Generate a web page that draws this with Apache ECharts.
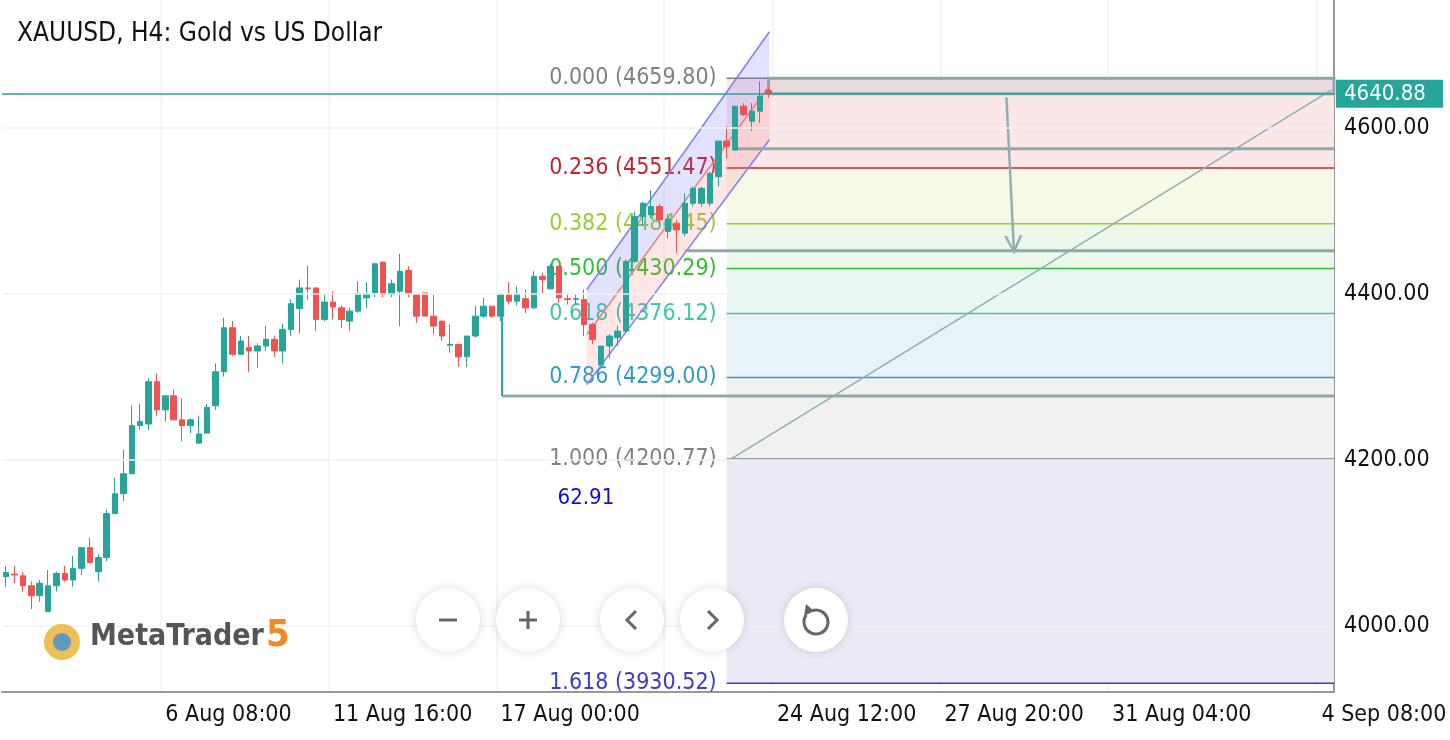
<!DOCTYPE html>
<html>
<head>
<meta charset="utf-8">
<script src="https://cdn.jsdelivr.net/npm/echarts@6/dist/echarts.min.js"></script>
<style>
  html, body { margin: 0; padding: 0; background: #fff; }
  #chart { width: 1450px; height: 740px; }
</style>
</head>
<body>
<div id="chart"></div>
<script>
// H4 candles, oldest first
const opens  = [4059,4062,4060,4048,4036,4017,4048,4063,4055,4069,4094,4065,4082,4135,4159,4183,4241,4243,4294,4260,4277,4248,4241,4220,4232,4265,4306,4359,4327,4335,4331,4337,4345,4331,4357,4382,4407,4407,4369,4390,4383,4367,4379,4395,4401,4438,4399,4403,4428,4399,4401,4373,4367,4338,4339,4324,4349,4373,4385,4373,4399,4391,4394,4383,4421,4406,4433,4394,4393,4393,4363,4314,4337,4347,4355,4439,4493,4495,4505,4475,4485,4473,4509,4509,4509,4541,4584,4573,4626,4608,4620,4645];
const closes = [4064,4061,4048,4036,4051,4048,4063,4055,4069,4094,4076,4082,4135,4159,4183,4241,4246,4294,4260,4277,4248,4241,4248,4231,4263,4306,4359,4327,4343,4331,4337,4345,4331,4357,4388,4407,4406,4369,4390,4384,4369,4379,4400,4400,4436,4399,4412,4427,4401,4373,4373,4361,4349,4339,4324,4349,4373,4385,4373,4399,4391,4399,4383,4421,4417,4433,4395,4393,4394,4363,4345,4337,4349,4355,4439,4493,4509,4505,4489,4490,4477,4509,4527,4527,4545,4584,4577,4626,4616,4620,4638,4640.88];
const lows   = [4047,4051,4041,4020,4029,4017,4041,4053,4047,4061,4075,4053,4078,4135,4150,4183,4236,4236,4253,4246,4248,4222,4232,4219,4232,4260,4300,4325,4326,4306,4311,4331,4324,4316,4349,4352,4393,4355,4367,4369,4359,4355,4377,4383,4396,4396,4396,4361,4396,4365,4373,4351,4343,4329,4312,4312,4347,4371,4371,4367,4387,4386,4377,4382,4401,4405,4389,4387,4387,4349,4339,4314,4322,4337,4353,4437,4481,4491,4483,4467,4449,4469,4505,4505,4505,4529,4563,4573,4614,4596,4606,4636];
const highs  = [4072,4072,4065,4053,4055,4067,4065,4072,4084,4094,4106,4086,4140,4178,4212,4265,4267,4298,4304,4277,4284,4274,4250,4253,4267,4316,4371,4367,4349,4349,4340,4361,4349,4364,4393,4417,4434,4407,4400,4403,4386,4383,4415,4414,4437,4439,4417,4448,4433,4399,4401,4399,4367,4363,4339,4349,4385,4395,4385,4401,4414,4409,4405,4427,4425,4436,4434,4401,4399,4405,4365,4337,4351,4361,4441,4499,4511,4525,4508,4496,4489,4521,4529,4529,4547,4584,4602,4626,4630,4630,4656,4648];

const barCount = 159; // history + empty future bars
const tickIdx = [19, 39, 59, 79, 92, 112, 132, 157];
const tickLabels = ['6 Aug 08:00', '11 Aug 16:00', '17 Aug 00:00', '', '24 Aug 12:00', '27 Aug 20:00', '31 Aug 04:00', '4 Sep 08:00'];
const priceTicks = [4000, 4200, 4400, 4600];

// fibonacci retracement
const fibRatios = ['0.000', '0.236', '0.382', '0.500', '0.618', '0.786', '1.000', '1.618'];
const fibPrices = [4659.80, 4551.47, 4484.45, 4430.29, 4376.12, 4299.00, 4200.77, 3930.52];
const fibColors = ['#808080', '#c8232c', '#9acd32', '#32c032', '#3cc8a0', '#3399cc', '#808080', '#3c3cc8'];
const fibFills = ['#fbe6e8', '#f5f9e6', '#ebf8ea', '#e9f8f4', '#e7f2f9', '#f1f1f1', '#ebebf8'];
const fibStart = 86;

// drawn levels: [price, start bar]
const levelPrices = [4574.81, 4451.76, 4276.70];
const levelStarts = [87.2, 81, 59.2];
const lastPrice = 4640.88;

// regression channel: [bar, upper, middle, lower]
const channelStart = [69.3, 4404.8, 4350.6, 4290.4];
const channelEnd = [91.1, 4715.7, 4650.6, 4585.5];
// trend line and arrow: [bar, price]
const trendLine = [[86.4, 4200], [158.2, 4645.8]];
const arrowLine = [[119.4, 4637], [120.3, 4450.6]];
const boxTop = [91, 4659.8, 4640.88];
const verticalLine = [59.2, 4276.7, 4400];
const pointsText = [69.2, 4154, '62.91'];

const font = '"DejaVu Sans Condensed", "DejaVu Sans", sans-serif';
const xMax = barCount - 0.5;

const candleData = opens.map((o, i) => [o, closes[i], lows[i], highs[i]]);
const categories = [];
for (let i = 0; i < barCount; i++) {
  const k = tickIdx.indexOf(i);
  categories.push(k >= 0 ? tickLabels[k] : '');
}
const isTick = (i) => tickIdx.indexOf(i) >= 0;

function renderOverlay(params, api) {
  const c = (x, y) => api.coord([x, y]);
  const els = [];
  const right = xMax;
  // fib bands
  for (let i = 0; i < fibFills.length; i++) {
    const a = c(fibStart, fibPrices[i]), b = c(right, fibPrices[i + 1]);
    els.push({ type: 'rect', shape: { x: a[0], y: a[1], width: b[0] - a[0], height: b[1] - a[1] }, style: { fill: fibFills[i] } });
  }
  // fib lines + labels
  for (let i = 0; i < fibPrices.length; i++) {
    const a = c(fibStart, fibPrices[i]), b = c(right, fibPrices[i]);
    els.push({ type: 'line', shape: { x1: a[0], y1: a[1], x2: b[0], y2: b[1] }, style: { stroke: fibColors[i], lineWidth: 1.5 } });
    els.push({ type: 'text', x: a[0] - 10, y: a[1], style: { text: fibRatios[i] + ' (' + fibPrices[i].toFixed(2) + ')', fill: fibColors[i], font: '23px ' + font, align: 'right', verticalAlign: 'middle' } });
  }
  // channel
  const u0 = c(channelStart[0], channelStart[1]), m0 = c(channelStart[0], channelStart[2]), l0 = c(channelStart[0], channelStart[3]);
  const u1 = c(channelEnd[0], channelEnd[1]), m1 = c(channelEnd[0], channelEnd[2]), l1 = c(channelEnd[0], channelEnd[3]);
  els.push({ type: 'polygon', shape: { points: [u0, u1, m1, m0] }, style: { fill: 'rgba(110,110,255,0.2)' } });
  els.push({ type: 'polygon', shape: { points: [m0, m1, l1, l0] }, style: { fill: 'rgba(255,120,120,0.18)' } });
  els.push({ type: 'line', shape: { x1: u0[0], y1: u0[1], x2: u1[0], y2: u1[1] }, style: { stroke: '#8080f0', lineWidth: 1.5 } });
  els.push({ type: 'line', shape: { x1: l0[0], y1: l0[1], x2: l1[0], y2: l1[1] }, style: { stroke: '#8080f0', lineWidth: 1.5 } });
  els.push({ type: 'line', shape: { x1: m0[0], y1: m0[1], x2: m1[0], y2: m1[1] }, style: { stroke: '#f08080', lineWidth: 1.5 } });
  // top box
  const bt = c(boxTop[0], boxTop[1]), bb = c(right, boxTop[2]);
  els.push({ type: 'rect', shape: { x: bt[0], y: bt[1], width: bb[0] - bt[0], height: bb[1] - bt[1] }, style: { fill: 'rgba(140,160,165,0.15)', stroke: '#8fa5a8', lineWidth: 3 } });
  // drawn levels
  for (let i = 0; i < levelPrices.length; i++) {
    const a = c(levelStarts[i], levelPrices[i]), b = c(right, levelPrices[i]);
    els.push({ type: 'line', shape: { x1: a[0], y1: a[1], x2: b[0], y2: b[1] }, style: { stroke: '#8fa8aa', lineWidth: 3 } });
  }
  const v0 = c(verticalLine[0], verticalLine[1]), v1 = c(verticalLine[0], verticalLine[2]);
  els.push({ type: 'line', shape: { x1: v0[0], y1: v0[1], x2: v1[0], y2: v1[1] }, style: { stroke: '#26a69a', lineWidth: 2 } });
  // trend line
  const t0 = c(trendLine[0][0], trendLine[0][1]), t1 = c(trendLine[1][0], trendLine[1][1]);
  els.push({ type: 'line', shape: { x1: t0[0], y1: t0[1], x2: t1[0], y2: t1[1] }, style: { stroke: '#8fb0b0', lineWidth: 1.5 } });
  // arrow
  const a0 = c(arrowLine[0][0], arrowLine[0][1]), a1 = c(arrowLine[1][0], arrowLine[1][1]);
  const ang = Math.atan2(a1[1] - a0[1], a1[0] - a0[0]);
  const head = 18;
  els.push({ type: 'line', shape: { x1: a0[0], y1: a0[1], x2: a1[0], y2: a1[1] }, style: { stroke: '#8fb0b0', lineWidth: 2.5 } });
  els.push({ type: 'polyline', shape: { points: [
    [a1[0] - head * Math.cos(ang - 0.45), a1[1] - head * Math.sin(ang - 0.45)], a1,
    [a1[0] - head * Math.cos(ang + 0.45), a1[1] - head * Math.sin(ang + 0.45)]] }, style: { stroke: '#8fb0b0', lineWidth: 2.5, fill: null } });
  // points label
  const p = c(pointsText[0], pointsText[1]);
  els.push({ type: 'text', x: p[0], y: p[1], style: { text: pointsText[2], fill: '#1010cc', font: '22px ' + font, align: 'center', verticalAlign: 'middle' } });
  return { type: 'group', children: els };
}

const boxLabel = (price, bg) => ({
  show: true, position: 'end', distance: 2, formatter: price.toFixed(2),
  backgroundColor: bg, color: '#fff', fontSize: 22, fontFamily: font,
  padding: [4, 6, 2, 8], width: 93, align: 'left'
});

const chart = echarts.init(document.getElementById('chart'));
chart.setOption({
  animation: false,
  backgroundColor: '#fff',
  title: { text: 'XAUUSD, H4: Gold vs US Dollar', left: 12, top: 16, textStyle: { fontFamily: font, fontSize: 26, fontWeight: 'normal', color: '#111' } },
  grid: { left: 2, right: 116, top: 0, bottom: 48 },
  xAxis: [{
    type: 'category', data: categories, boundaryGap: true,
    axisLine: { lineStyle: { color: '#999', width: 2 } },
    axisTick: { alignWithLabel: true, length: 7, interval: (i) => isTick(i), lineStyle: { color: '#999', width: 2 } },
    axisLabel: { interval: (i) => isTick(i), align: 'left', margin: 12, color: '#111', fontSize: 23, fontFamily: font },
    splitLine: { show: true, interval: (i) => isTick(i), lineStyle: { color: '#f2f2f2', width: 1.5 } }
  }, {
    type: 'value', min: -0.5, max: xMax, show: false
  }],
  yAxis: {
    type: 'value', position: 'right', min: 3920, max: 4754, interval: 40, scale: true,
    axisLine: { show: true, onZero: false, lineStyle: { color: '#999', width: 2 } },
    axisTick: { show: false },
    splitLine: { show: false },
    axisLabel: { color: '#111', fontSize: 23, fontFamily: font, margin: 10, formatter: (v) => (priceTicks.indexOf(v) >= 0 ? v.toFixed(2) : '') }
  },
  series: [{
    type: 'line', xAxisIndex: 1, data: [], silent: true,
    markLine: {
      symbol: 'none', silent: true,
      label: { show: false },
      lineStyle: { color: '#f2f2f2', width: 1.5, type: 'solid' },
      data: priceTicks.map((v) => ({ yAxis: v }))
    }
  }, {
    type: 'custom', xAxisIndex: 1, data: [[0, 0]], renderItem: renderOverlay, silent: true, z: 1
  }, {
    type: 'candlestick', data: candleData, barWidth: 6, z: 3,
    itemStyle: { color: '#26a69a', color0: '#ef5350', borderColor: '#26a69a', borderColor0: '#ef5350', borderWidth: 1 },
    markLine: {
      symbol: 'none', silent: true,
      data: [
        { yAxis: lastPrice, lineStyle: { color: '#26a69a', width: 1.5, type: 'solid' }, label: boxLabel(lastPrice, '#26a69a') }
      ].concat(levelPrices.map((v) => ({ yAxis: v, lineStyle: { opacity: 0 }, label: boxLabel(v, '#82a5a8') })))
    }
  }],
  graphic: { elements: [
    { type: 'text', z: 100, left: 90, top: 622, style: { text: 'MetaTrader', fill: '#555', font: 'bold 30px ' + font } },
    { type: 'text', z: 100, left: 266, top: 617, style: { text: '5', fill: '#f08a24', font: 'bold 38px ' + font } },
    { type: 'circle', z: 100, shape: { cx: 62, cy: 642, r: 18 }, style: { fill: '#e9b43a', opacity: 0.85 } },
    { type: 'circle', z: 100, shape: { cx: 62, cy: 642, r: 9 }, style: { fill: '#3d8fd8', opacity: 0.8 } },
    { type: 'circle', z: 100, shape: { cx: 448, cy: 620, r: 32 }, style: { fill: '#fff', shadowBlur: 8, shadowColor: 'rgba(0,0,0,0.15)' } },
    { type: 'circle', z: 100, shape: { cx: 528, cy: 620, r: 32 }, style: { fill: '#fff', shadowBlur: 8, shadowColor: 'rgba(0,0,0,0.15)' } },
    { type: 'circle', z: 100, shape: { cx: 632, cy: 620, r: 32 }, style: { fill: '#fff', shadowBlur: 8, shadowColor: 'rgba(0,0,0,0.15)' } },
    { type: 'circle', z: 100, shape: { cx: 712, cy: 620, r: 32 }, style: { fill: '#fff', shadowBlur: 8, shadowColor: 'rgba(0,0,0,0.15)' } },
    { type: 'circle', z: 100, shape: { cx: 816, cy: 620, r: 32 }, style: { fill: '#fff', shadowBlur: 8, shadowColor: 'rgba(0,0,0,0.15)' } },
    { type: 'line', z: 101, shape: { x1: 439, y1: 620, x2: 457, y2: 620 }, style: { stroke: '#666', lineWidth: 3 } },
    { type: 'line', z: 101, shape: { x1: 519, y1: 620, x2: 537, y2: 620 }, style: { stroke: '#666', lineWidth: 3 } },
    { type: 'line', z: 101, shape: { x1: 528, y1: 611, x2: 528, y2: 629 }, style: { stroke: '#666', lineWidth: 3 } },
    { type: 'polyline', z: 101, shape: { points: [[636, 611], [627, 620], [636, 629]] }, style: { stroke: '#666', lineWidth: 3, fill: null } },
    { type: 'polyline', z: 101, shape: { points: [[708, 611], [717, 620], [708, 629]] }, style: { stroke: '#666', lineWidth: 3, fill: null } },
    { type: 'arc', z: 101, shape: { cx: 816, cy: 622, r: 12, startAngle: -Math.PI * 0.6, endAngle: Math.PI * 1.2 }, style: { stroke: '#666', lineWidth: 3, fill: null } },
    { type: 'polygon', z: 101, shape: { points: [[806, 604], [814, 611], [804, 616]] }, style: { fill: '#666' } }
  ] }
});

window.addEventListener('resize', () => chart.resize());
</script>
</body>
</html>
